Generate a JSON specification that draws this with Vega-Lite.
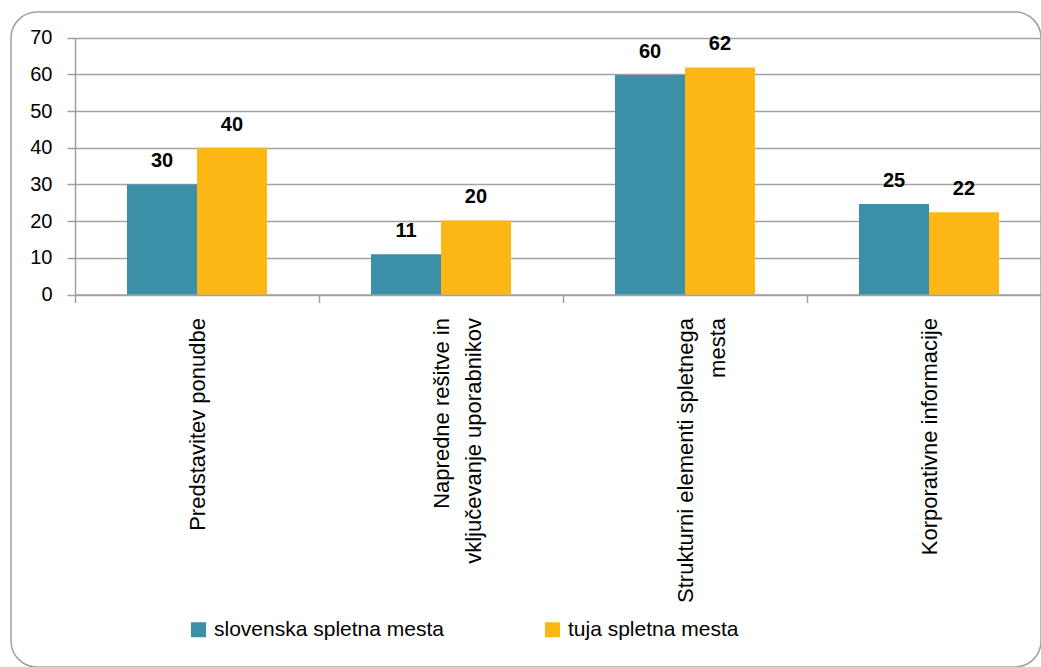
{
  "$schema": "https://vega.github.io/schema/vega-lite/v6.json",
  "width": 1030,
  "height": 655,
  "autosize": {"type": "none"},
  "padding": {"left": 11, "top": 12, "right": 0, "bottom": 0},
  "background": "white",
  "config": {
    "font": "Liberation Sans",
    "view": {"stroke": "#a0a0a0", "strokeWidth": 1.5, "cornerRadius": 26, "fill": "white"}
  },
  "data": {
    "values": [
      {"kategorija": "Predstavitev ponudbe", "vrsta": "slovenska spletna mesta", "vrednost": 30},
      {"kategorija": "Predstavitev ponudbe", "vrsta": "tuja spletna mesta", "vrednost": 40},
      {"kategorija": "Napredne rešitve in|vključevanje uporabnikov", "vrsta": "slovenska spletna mesta", "vrednost": 11},
      {"kategorija": "Napredne rešitve in|vključevanje uporabnikov", "vrsta": "tuja spletna mesta", "vrednost": 20.2},
      {"kategorija": "Strukturni elementi spletnega|mesta", "vrsta": "slovenska spletna mesta", "vrednost": 59.8},
      {"kategorija": "Strukturni elementi spletnega|mesta", "vrsta": "tuja spletna mesta", "vrednost": 61.9},
      {"kategorija": "Korporativne informacije", "vrsta": "slovenska spletna mesta", "vrednost": 24.7},
      {"kategorija": "Korporativne informacije", "vrsta": "tuja spletna mesta", "vrednost": 22.4}
    ]
  },
  "encoding": {
    "x": {
      "field": "kategorija",
      "type": "nominal",
      "sort": null,
      "scale": {"range": [64, 1040], "paddingInner": 0, "paddingOuter": 0},
      "axis": {
        "title": null,
        "orient": "bottom",
        "offset": -372.5,
        "tickBand": "extent",
        "grid": false,
        "domainColor": "#a0a0a0",
        "domainWidth": 1.5,
        "tickColor": "#a0a0a0",
        "tickWidth": 1.5,
        "tickSize": 8,
        "labelAngle": -90,
        "labelAlign": "right",
        "labelBaseline": "middle",
        "labelFontSize": 22,
        "labelLineHeight": 32,
        "labelColor": "#000000",
        "labelPadding": 15,
        "labelLimit": 500,
        "labelOverlap": false,
        "labelBound": false,
        "labelFlush": false,
        "labelExpr": "split(datum.label, '|')"
      }
    },
    "xOffset": {
      "field": "vrsta",
      "type": "nominal",
      "sort": ["slovenska spletna mesta", "tuja spletna mesta"],
      "scale": {"paddingInner": 0, "paddingOuter": 0.743}
    },
    "y": {
      "field": "vrednost",
      "type": "quantitative",
      "scale": {"domain": [0, 70], "range": [282.5, 25.7], "nice": false, "zero": true},
      "axis": {
        "title": null,
        "offset": -64,
        "values": [0, 10, 20, 30, 40, 50, 60, 70],
        "grid": true,
        "gridColor": "#a3a3a3",
        "gridWidth": 1.5,
        "domainColor": "#a0a0a0",
        "domainWidth": 1.5,
        "tickColor": "#a0a0a0",
        "tickWidth": 1.5,
        "tickSize": 8,
        "labelFontSize": 20,
        "labelColor": "#000000",
        "labelPadding": 15
      }
    }
  },
  "layer": [
    {
      "mark": {"type": "bar"},
      "encoding": {
        "color": {
          "field": "vrsta",
          "type": "nominal",
          "scale": {
            "domain": ["slovenska spletna mesta", "tuja spletna mesta"],
            "range": ["#3B8FA6", "#FDB714"]
          },
          "legend": {
            "title": null,
            "orient": "none",
            "legendX": 177,
            "legendY": 607,
            "direction": "horizontal",
            "columns": 2,
            "symbolType": "square",
            "symbolSize": 225,
            "symbolStrokeWidth": 0,
            "labelFontSize": 21,
            "labelColor": "#000000",
            "labelOffset": 5,
            "labelLimit": 500,
            "columnPadding": 98,
            "padding": 0
          }
        }
      }
    },
    {
      "mark": {"type": "text", "dy": -17, "baseline": "alphabetic", "fontWeight": "bold", "fontSize": 20, "color": "#000000"},
      "encoding": {
        "text": {"field": "vrednost", "type": "quantitative", "format": ".0f"}
      }
    }
  ]
}
